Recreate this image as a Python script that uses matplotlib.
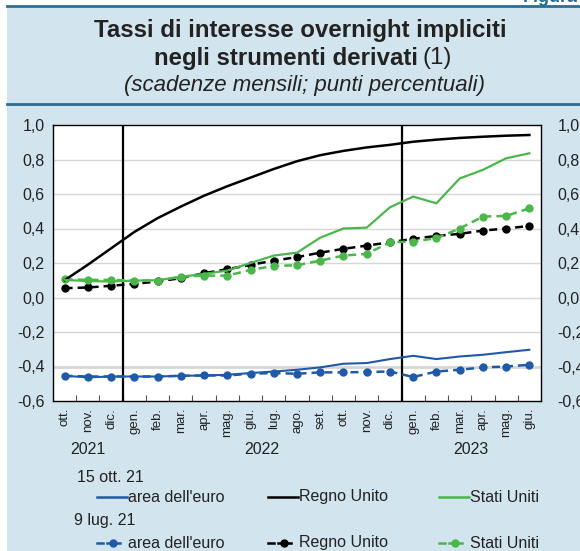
import matplotlib
matplotlib.use("Agg")
import matplotlib.pyplot as plt
import matplotlib.transforms as mtransforms
import numpy as np
from matplotlib.lines import Line2D
from matplotlib.patches import Rectangle

plt.rcParams["font.family"] = ["Liberation Sans", "DejaVu Sans"]

# Data
months = ["ott.", "nov.", "dic.", "gen.", "feb.", "mar.", "apr.", "mag.",
          "giu.", "lug.", "ago.", "set.", "ott.", "nov.", "dic.", "gen.",
          "feb.", "mar.", "apr.", "mag.", "giu."]
years = ["2021", "2022", "2023"]
year_of_month = [0, 0, 0] + [1] * 12 + [2] * 6

# 15 ott. 21
euro_oct = [-0.454, -0.463, -0.458, -0.458, -0.458, -0.454, -0.452, -0.448,
            -0.438, -0.429, -0.419, -0.405, -0.384, -0.380, -0.357, -0.338,
            -0.357, -0.342, -0.332, -0.317, -0.303]
uk_oct = [0.100, 0.190, 0.285, 0.380, 0.460, 0.527, 0.590, 0.645, 0.695,
          0.745, 0.790, 0.825, 0.850, 0.870, 0.885, 0.903, 0.915, 0.925,
          0.932, 0.938, 0.942]
us_oct = [0.102, 0.095, 0.093, 0.098, 0.100, 0.120, 0.137, 0.156, 0.200,
          0.243, 0.260, 0.347, 0.400, 0.405, 0.523, 0.585, 0.546, 0.690,
          0.740, 0.807, 0.836]
# 9 lug. 21
euro_jul = [-0.454, -0.458, -0.458, -0.458, -0.458, -0.454, -0.452, -0.452,
            -0.442, -0.438, -0.442, -0.434, -0.434, -0.432, -0.429, -0.461,
            -0.429, -0.419, -0.405, -0.400, -0.390]
uk_jul = [0.054, 0.058, 0.068, 0.079, 0.093, 0.112, 0.141, 0.164, 0.189,
          0.214, 0.234, 0.260, 0.282, 0.301, 0.320, 0.340, 0.357, 0.369,
          0.388, 0.400, 0.415]
us_jul = [0.106, 0.102, 0.102, 0.098, 0.098, 0.120, 0.127, 0.127, 0.160,
          0.183, 0.187, 0.214, 0.243, 0.253, 0.320, 0.324, 0.344, 0.400,
          0.469, 0.473, 0.517]

yticks = [-0.6, -0.4, -0.2, 0.0, 0.2, 0.4, 0.6, 0.8, 1.0]
ytick_labels = [f"{v:.1f}".replace(".", ",") for v in yticks]

blue = "#1f5aa8"
green = "#4bb74a"
black = "#000000"
bg = "#d2e4ee"
teal = "#2c6f8f"
txt = "#222222"

W, H = 580, 551
fig = plt.figure(figsize=(W / 100, H / 100), dpi=100)


def fx(x):
    return x / W


def fy(y):
    return 1 - y / H


# Background panel and header lines
fig.patches.append(Rectangle((fx(7), 0), 1 - fx(7), fy(7), transform=fig.transFigure,
                             facecolor=bg, edgecolor="none", zorder=-10))
fig.add_artist(Line2D([fx(7), 1], [fy(6), fy(6)], color=teal, lw=2))
fig.add_artist(Line2D([fx(7), 1], [fy(104), fy(104)], color=teal, lw=2))
# "Figura" is cut by the top edge in the reference
fig.text(fx(578), fy(2), "Figura", ha="right", va="baseline", fontsize=13,
         fontweight="bold", color="#1f6d98")

# Titles
fig.text(fx(300), fy(31), "Tassi di interesse overnight impliciti", ha="center",
         va="center", fontsize=17.3, fontweight="bold", color=txt)
fig.text(fx(418), fy(58), "negli strumenti derivati", ha="right", va="center",
         fontsize=17.3, fontweight="bold", color=txt)
fig.text(fx(423), fy(58), "(1)", ha="left", va="center", fontsize=17.3,
         color=txt)
fig.text(fx(305), fy(85), "(scadenze mensili; punti percentuali)", ha="center",
         va="center", fontsize=16, style="italic", color=txt)

# Axes
ax = fig.add_axes([fx(53), fy(401), fx(541) - fx(53), fy(125) - fy(401)])
ax.set_facecolor("white")
x = np.arange(len(months))

for v in yticks[1:-1]:
    ax.axhline(v, color="#d6d6d6", lw=2 if v == -0.4 else 1, zorder=1)

ax.axvline(2.5, color=black, lw=1.6, zorder=2)
ax.axvline(14.5, color=black, lw=1.6, zorder=2)

ax.plot(x, euro_oct, color=blue, lw=1.5, zorder=4)
ax.plot(x, uk_oct, color=black, lw=1.8, zorder=4)
ax.plot(x, us_oct, color=green, lw=1.6, zorder=4)

dash = (3.2, 2.0)
ax.plot(x, euro_jul, color=blue, lw=1.8, dashes=dash, marker="o", ms=5, zorder=3)
ax.plot(x, uk_jul, color=black, lw=1.8, dashes=dash, marker="o", ms=5, zorder=3)
ax.plot(x, us_jul, color=green, lw=1.8, dashes=dash, marker="o", ms=5, zorder=3)

ax.set_xlim(-0.5, len(months) - 0.5)
ax.set_ylim(-0.6, 1.0)
ax.set_yticks(yticks)
ax.set_yticklabels(ytick_labels)
ax.tick_params(axis="y", length=0, pad=6, labelsize=11.5, colors=txt)

ax.set_xticks(x)
ax.set_xticklabels(months, rotation=90, fontsize=9.5, color=txt)
ax.tick_params(axis="x", which="major", length=0, pad=5)
ax.set_xticks(np.arange(len(months) - 1) + 0.5, minor=True)
ax.tick_params(axis="x", which="minor", direction="in", length=4, width=0.8,
               color="#555555")
for s in ax.spines.values():
    s.set_linewidth(1.0)

ax2 = ax.twinx()
ax2.set_ylim(ax.get_ylim())
ax2.set_yticks(yticks)
ax2.set_yticklabels(ytick_labels)
ax2.tick_params(axis="y", length=0, pad=12, labelsize=11.5, colors=txt)
for s in ax2.spines.values():
    s.set_visible(False)

# Year labels under the month names
year_tr = mtransforms.blended_transform_factory(ax.transData, fig.transFigure)
for k, yr in enumerate(years):
    idx = [i for i, g in enumerate(year_of_month) if g == k]
    ax.text(np.mean(idx), fy(449), yr, ha="center", va="center", fontsize=11.5,
            color=txt, transform=year_tr, clip_on=False)

# Legend built by hand
fig.text(fx(77), fy(477), "15 ott. 21", ha="left", va="center", fontsize=11.5,
         color=txt)
fig.text(fx(74), fy(521), "9 lug. 21", ha="left", va="center", fontsize=11.5,
         color=txt)
items = [("area dell'euro", blue, 97), ("Regno Unito", black, 268),
         ("Stati Uniti", green, 439)]
for label, col, x0 in items:
    fig.add_artist(Line2D([fx(x0), fx(x0 + 30)], [fy(497), fy(497)], color=col, lw=1.8))
    fig.text(fx(x0 + 31), fy(497), label, ha="left", va="center", fontsize=11.5,
             color=txt)
    fig.add_artist(Line2D([fx(x0), fx(x0 + 6)], [fy(543), fy(543)], color=col, lw=1.8))
    fig.add_artist(Line2D([fx(x0 + 10), fx(x0 + 23)], [fy(543), fy(543)], color=col,
                          lw=1.8))
    fig.add_artist(Line2D([fx(x0 + 16)], [fy(543)], color=col, marker="o", ms=5,
                          lw=0))
    fig.text(fx(x0 + 31), fy(543), label, ha="left", va="center", fontsize=11.5,
             color=txt)

fig.savefig("out.png", dpi=100)
